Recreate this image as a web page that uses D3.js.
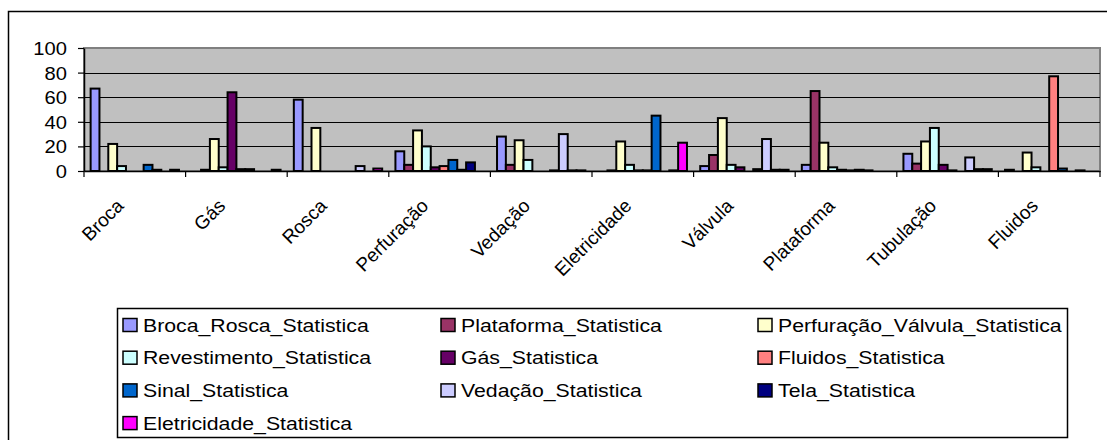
<!DOCTYPE html>
<html>
<head>
<meta charset="utf-8">
<script src="https://cdn.jsdelivr.net/npm/d3@7"></script>
<style>
  html, body { margin: 0; padding: 0; background: #fff; }
  svg { display: block; font-family: "Liberation Sans", Arial, sans-serif; }
</style>
</head>
<body>
<svg id="chart" width="1107" height="440"></svg>
<script>
// Categories along the x axis
const categories = ["Broca", "Gás", "Rosca", "Perfuração", "Vedação", "Eletricidade", "Válvula", "Plataforma", "Tubulação", "Fluidos"];

// Series names and colours (legend order)
const seriesNames = [
  "Broca_Rosca_Statistica", "Plataforma_Statistica", "Perfuração_Válvula_Statistica",
  "Revestimento_Statistica", "Gás_Statistica", "Fluidos_Statistica",
  "Sinal_Statistica", "Vedação_Statistica", "Tela_Statistica",
  "Eletricidade_Statistica"
];
const seriesColors = ["#9999ff", "#993366", "#ffffcc", "#ccffff", "#660066", "#ff8080", "#0066cc", "#ccccff", "#000080", "#ff00ff"];

// Values per series, one entry per category
const brocaRosca   = [67, 0, 58, 16, 28, 0, 4, 5, 14, 1];
const plataforma   = [0, 1, 0, 5, 5, 0.5, 13, 65, 6, 0];
const perfValvula  = [22, 26, 35, 33, 25, 24, 43, 23, 24, 15];
const revestimento = [4, 3, 0, 20, 9, 5, 5, 3, 35, 3];
const gas          = [0, 64, 0, 3, 0, 0.5, 3, 1, 5, 0];
const fluidos      = [0, 1.5, 0, 4, 0, 0.5, 0, 0.5, 0.5, 77];
const sinal        = [5, 1.5, 0, 9, 0.5, 45, 1.5, 1, 0, 2];
const vedacao      = [1, 0, 4, 1, 30, 0, 26, 0.5, 11, 0];
const tela         = [0, 0, 0, 7, 0.5, 0.5, 1, 0, 1.5, 0.5];
const eletricidade = [1, 1, 2, 0, 0.5, 23, 1, 0, 1.5, 0];

// Y axis tick labels
const yTicks = [0, 20, 40, 60, 80, 100];

const series = [brocaRosca, plataforma, perfValvula, revestimento, gas, fluidos, sinal, vedacao, tela, eletricidade];

const svg = d3.select("#chart");
const plot = { left: 84, right: 1100, top: 48, bottom: 171 };

// Chart frame
svg.append("rect")
  .attr("x", 8.5).attr("y", 11.5)
  .attr("width", 1120).attr("height", 450)
  .attr("fill", "#fff").attr("stroke", "#000").attr("stroke-width", 1.5);

// Scales: category bands, series sub-bands with a 150% gap between groups
const x0 = d3.scaleBand().domain(categories).range([plot.left, plot.right]).padding(0);
const bw = x0.bandwidth();
const edge = bw * 0.75 / 11.5;
const x1 = d3.scaleBand().domain(d3.range(seriesNames.length)).range([edge, bw - edge]).padding(0);
const y = d3.scaleLinear().domain([0, 100]).range([plot.bottom, plot.top]);

// Plot area
svg.append("rect")
  .attr("x", plot.left).attr("y", plot.top)
  .attr("width", plot.right - plot.left).attr("height", plot.bottom - plot.top)
  .attr("fill", "#c0c0c0").attr("stroke", "#808080").attr("stroke-width", 2);

// Horizontal gridlines
svg.append("g").selectAll("line")
  .data(yTicks.filter(t => t > 0 && t < 100))
  .join("line")
  .attr("x1", plot.left).attr("x2", plot.right)
  .attr("y1", d => Math.round(y(d)) + 0.5).attr("y2", d => Math.round(y(d)) + 0.5)
  .attr("stroke", "#000").attr("stroke-width", 1);

// Bars
const groups = svg.append("g").selectAll("g")
  .data(categories)
  .join("g")
  .attr("transform", c => `translate(${x0(c)},0)`);

groups.selectAll("rect")
  .data((c, ci) => series.map((s, si) => ({ si, v: s[ci] })).filter(d => d.v > 0))
  .join("rect")
  .attr("x", d => x1(d.si))
  .attr("width", x1.bandwidth())
  .attr("y", d => y(d.v))
  .attr("height", d => y(0) - y(d.v))
  .attr("fill", d => seriesColors[d.si])
  .attr("stroke", "#000")
  .attr("stroke-width", 2);

// Y axis
const yAxis = svg.append("g")
  .attr("transform", `translate(${plot.left},0)`)
  .call(d3.axisLeft(y).tickValues(yTicks).tickSize(6).tickSizeOuter(0));
yAxis.select(".domain").attr("stroke", "#000").attr("stroke-width", 1.5);
yAxis.selectAll(".tick line").attr("stroke", "#000").attr("stroke-width", 1.2);
yAxis.selectAll(".tick text")
  .attr("x", null)
  .attr("dy", "0.36em")
  .attr("transform", "translate(-17,0) scale(1.12,1)")
  .attr("text-anchor", "end")
  .attr("fill", "#000")
  .style("font-size", "18px");

// X axis: labels centred on bands, tick marks on band boundaries
const xAxis = svg.append("g")
  .attr("transform", `translate(0,${plot.bottom})`)
  .call(d3.axisBottom(x0).tickSize(0).tickSizeOuter(0));
xAxis.select(".domain").attr("stroke", "#000").attr("stroke-width", 1.5);
xAxis.selectAll(".tick text")
  .attr("y", null)
  .attr("dy", null)
  .attr("transform", "translate(-10,36) rotate(-45)")
  .attr("text-anchor", "end")
  .attr("fill", "#000")
  .style("font-size", "19px");

const bounds = categories.map(c => x0(c)).concat([plot.right]);
svg.append("g").selectAll("line")
  .data(bounds)
  .join("line")
  .attr("x1", d => d).attr("x2", d => d)
  .attr("y1", plot.bottom).attr("y2", plot.bottom + 6)
  .attr("stroke", "#000").attr("stroke-width", 1.2);

// Legend
const legend = svg.append("g");
legend.append("rect")
  .attr("x", 117.5).attr("y", 308.5)
  .attr("width", 950).attr("height", 129)
  .attr("fill", "#fff").attr("stroke", "#000").attr("stroke-width", 1.5);

const colX = [123, 441, 758];
const rowStep = 32.7;
const items = legend.selectAll("g.item")
  .data(seriesNames.map((name, i) => ({ name, i })))
  .join("g")
  .attr("class", "item")
  .attr("transform", d => `translate(${colX[d.i % 3]},${325 + Math.floor(d.i / 3) * rowStep})`);

items.append("rect")
  .attr("x", 0).attr("y", -6.5)
  .attr("width", 14).attr("height", 13)
  .attr("fill", d => seriesColors[d.i])
  .attr("stroke", "#000").attr("stroke-width", 1.5);

items.append("text")
  .attr("transform", "translate(20,0) scale(1.15,1)")
  .attr("dy", "0.36em")
  .style("font-size", "18.5px")
  .attr("fill", "#000")
  .text(d => d.name);
</script>
</body>
</html>
